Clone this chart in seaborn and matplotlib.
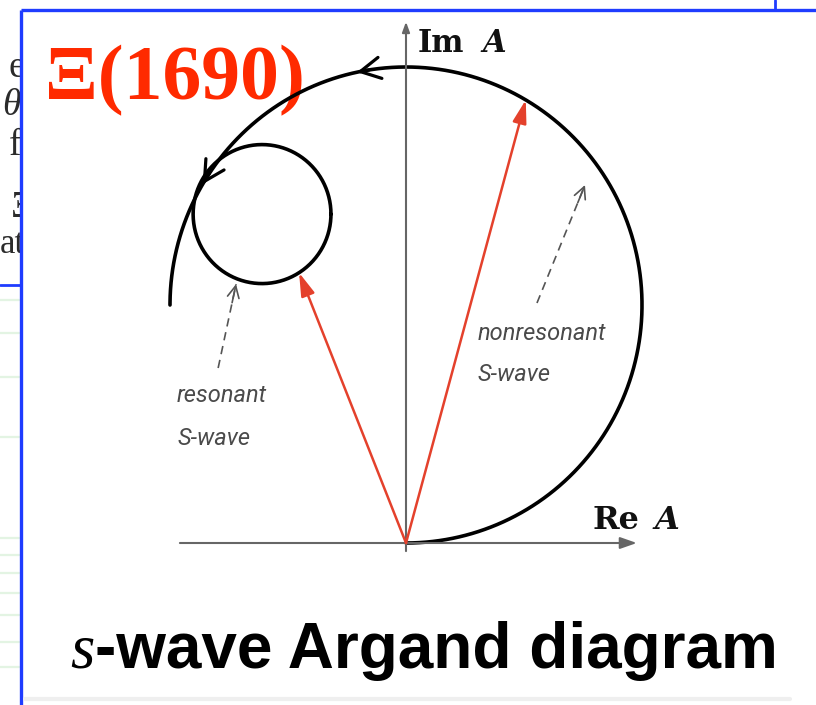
import numpy as np
import matplotlib
matplotlib.use("Agg")
import matplotlib.pyplot as plt
import seaborn as sns
from matplotlib.patches import FancyArrowPatch, Rectangle

# ---- Argand-plane content (units of the amplitude A) ----
unitarity_center = (0.0, 0.5)
unitarity_radius = 0.5
path_angles_deg = (-90.0, 180.0)          # traced counter-clockwise from the origin
flow_arrow_angles_deg = [102.0, 149.5]

loop_center = (-0.305, 0.691)             # resonance loop
loop_radius = 0.146

nonres_tip_angle_deg = 59.5               # red vector ending on the unitarity circle
res_tip_angle_deg = -57.5                 # red vector ending on the resonance loop

re_axis_extent = (-0.479, 0.489)
im_axis_extent = (-0.017, 1.095)

# ---- text ----
title_text = "Ξ(1690)"
caption_italic = "s"
caption_text = "-wave Argand diagram"
re_label = ("Re", "A")
im_label = ("Im", "A")
nonres_label = ["nonresonant", "S-wave"]
res_label = ["resonant", "S-wave"]
margin_words = ["e", "θ", "f", "Ξ", "at"]

sns.set_theme(style="white")
plt.rcParams["font.family"] = ["DejaVu Sans"]

W, H, DPI = 816, 705, 100
fig = plt.figure(figsize=(W / DPI, H / DPI), dpi=DPI)
fig.patch.set_facecolor("white")

# slide layer in pixel units
bg = fig.add_axes([0, 0, 1, 1])
bg.set_xlim(0, W)
bg.set_ylim(H, 0)
bg.axis("off")

# words from the neighbouring slide column
margin_pos = [(8, 77, "normal", 27), (2, 115, "italic", 27), (9, 155, "normal", 27),
              (11, 217, "normal", 27), (0, 253, "normal", 25)]
for word, (px, py, st, fs) in zip(margin_words, margin_pos):
    bg.text(px, py, word, fontsize=fs, family="Liberation Serif", style=st,
            color="#2b2b2b", va="baseline", ha="left", zorder=1)
for gy in [300, 333, 377, 437, 538, 555, 573, 593, 615, 642, 667]:
    bg.plot([0, 19], [gy, gy], color="#e3f4e3", lw=1.6, zorder=1)

# framed slide panel
bg.add_patch(Rectangle((21, 10), W, H, facecolor="white", edgecolor="none", zorder=2))
blue = "#1f3cff"
bg.plot([21, W], [10, 10], color=blue, lw=2.4, zorder=3, solid_capstyle="butt")
bg.plot([21, 21], [10, H], color=blue, lw=2.4, zorder=3, solid_capstyle="butt")
bg.plot([775, 775], [0, 10], color=blue, lw=2.0, zorder=3)
bg.plot([0, 21], [285, 285], color=blue, lw=2.0, zorder=3)
bg.plot([25, 790], [699, 699], color="#efefef", lw=3, zorder=3)

# title and caption
bg.text(45, 99, title_text, fontsize=56, family="Liberation Serif",
        weight="bold", color="#ff2a00", va="baseline", ha="left", zorder=5)
bg.text(70, 668, caption_italic, fontsize=45, family="Liberation Serif",
        style="italic", color="black", va="baseline", ha="left", zorder=5)
bg.text(95, 668, caption_text, fontsize=46, family="Liberation Sans",
        weight="bold", color="black", va="baseline", ha="left", zorder=5)

# axis names
bg.text(418, 52, im_label[0], fontsize=22, family="DejaVu Serif", weight="bold",
        va="baseline", ha="left", color="#111111", zorder=5)
bg.text(482, 52, im_label[1], fontsize=22, family="DejaVu Serif", weight="bold",
        style="italic", va="baseline", ha="left", color="#111111", zorder=5)
bg.text(593, 529, re_label[0], fontsize=23, family="DejaVu Serif", weight="bold",
        va="baseline", ha="left", color="#111111", zorder=5)
bg.text(655, 529, re_label[1], fontsize=23, family="DejaVu Serif", weight="bold",
        style="italic", va="baseline", ha="left", color="#111111", zorder=5)

# ---- Argand diagram axes ----
ox, oy, sx, sy = 406, 543, 472, 476
ax = fig.add_axes([0, 0, 1, 1])
ax.set_xlim(-ox / sx, (W - ox) / sx)
ax.set_ylim(-(H - oy) / sy, oy / sy)
ax.patch.set_alpha(0)
ax.axis("off")
ax.set_zorder(bg.get_zorder() + 1)


def on_circle(center, radius, ang_deg):
    a = np.radians(ang_deg)
    return center[0] + radius * np.cos(a), center[1] + radius * np.sin(a)


axis_gray = "#666666"
ax.annotate("", xy=(re_axis_extent[1], 0), xytext=(re_axis_extent[0], 0),
            arrowprops=dict(arrowstyle="-|>,head_length=1.0,head_width=0.35",
                            mutation_scale=10, color=axis_gray, lw=1.5,
                            shrinkA=0, shrinkB=0))
ax.annotate("", xy=(0, im_axis_extent[1]), xytext=(0, im_axis_extent[0]),
            arrowprops=dict(arrowstyle="-|>,head_length=0.6,head_width=0.22",
                            mutation_scale=10, color=axis_gray, lw=1.5,
                            shrinkA=0, shrinkB=0))

# amplitude path on the unitarity circle
t = np.linspace(path_angles_deg[0], path_angles_deg[1], 500)
bx, by = on_circle(unitarity_center, unitarity_radius, t)
sns.lineplot(x=bx, y=by, sort=False, estimator=None, color="black", lw=2.6, ax=ax)

# resonance loop
tl = np.linspace(0, 360, 400)
lx, ly = on_circle(loop_center, loop_radius, tl)
sns.lineplot(x=lx, y=ly, sort=False, estimator=None, color="black", lw=2.6, ax=ax)

# direction of travel along the path
for a in flow_arrow_angles_deg:
    p0 = on_circle(unitarity_center, unitarity_radius, a - 3)
    p1 = on_circle(unitarity_center, unitarity_radius, a)
    ax.add_patch(FancyArrowPatch(p0, p1, arrowstyle="->,head_length=0.6,head_width=0.32",
                                 mutation_scale=24, color="black", lw=2.3,
                                 shrinkA=0, shrinkB=0))

# red amplitude vectors
red = "#e4412c"
for tip in [on_circle(unitarity_center, unitarity_radius, nonres_tip_angle_deg),
            on_circle(loop_center, loop_radius, res_tip_angle_deg)]:
    ax.annotate("", xy=tip, xytext=(0, 0),
                arrowprops=dict(arrowstyle="-|>,head_length=1.0,head_width=0.3",
                                mutation_scale=14, color=red, lw=1.8,
                                shrinkA=0, shrinkB=0))

# dashed pointers to the labels
ptr_gray = "#555555"
for start, tip in [((0.2775, 0.5042), (0.3792, 0.7521)),
                   ((-0.398, 0.3676), (-0.360, 0.544))]:
    ax.plot([start[0], tip[0]], [start[1], tip[1]], color=ptr_gray, lw=1.2,
            dashes=(5, 3.5))
    d = np.array(tip) - np.array(start)
    back = np.array(tip) - 0.04 * d / np.linalg.norm(d)
    ax.annotate("", xy=tip, xytext=tuple(back),
                arrowprops=dict(arrowstyle="->,head_length=0.6,head_width=0.3",
                                mutation_scale=14, color=ptr_gray, lw=1.2,
                                shrinkA=0, shrinkB=0))

label_style = dict(fontsize=17, family="Roboto", style="italic",
                   color="#4a4a4a", va="baseline", ha="left")
ax.text(0.1525, 0.4265, nonres_label[0], **label_style)
ax.text(0.1525, 0.3403, nonres_label[1], **label_style)
ax.text(-0.485, 0.2962, res_label[0], **label_style)
ax.text(-0.485, 0.2059, res_label[1], **label_style)

fig.savefig("out.png", dpi=DPI, facecolor="white")
